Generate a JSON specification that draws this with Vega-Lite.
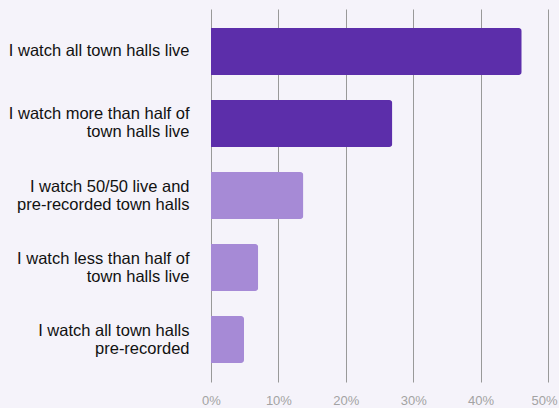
{
  "$schema": "https://vega.github.io/schema/vega-lite/v6.json",
  "autosize": {"type": "none"},
  "padding": {"left": 211, "top": 9, "right": 11, "bottom": 26},
  "width": 337,
  "height": 373,
  "background": "#f5f3fa",
  "config": {"view": {"stroke": null}},
  "data": {"values": [
    {"answer": "I watch all town halls live", "share": 0.461, "group": "mostly live"},
    {"answer": "I watch more than half of|town halls live", "share": 0.269, "group": "mostly live"},
    {"answer": "I watch 50/50 live and|pre-recorded town halls", "share": 0.137, "group": "other"},
    {"answer": "I watch less than half of|town halls live", "share": 0.07, "group": "other"},
    {"answer": "I watch all town halls |pre-recorded", "share": 0.049, "group": "other"}
  ]},
  "mark": {"type": "bar", "cornerRadiusEnd": 3},
  "encoding": {
    "y": {
      "field": "answer", "type": "nominal", "sort": null, "title": null,
      "scale": {"paddingInner": 0.35, "paddingOuter": 0.265},
      "axis": {
        "domain": false, "ticks": false, "grid": false,
        "labelExpr": "split(datum.value, '|')",
        "labelFont": "Liberation Sans", "labelFontSize": 16.5, "labelColor": "#111111",
        "labelPadding": 22, "labelLineHeight": 18, "labelLimit": 300,
        "labelOffset": {"condition": {"test": "indexof(datum.value, '|') >= 0", "value": -9}, "value": 0}
      }
    },
    "x": {
      "field": "share", "type": "quantitative", "title": null,
      "scale": {"domain": [0, 0.5], "nice": false},
      "axis": {
        "values": [0, 0.1, 0.2, 0.3, 0.4, 0.5], "format": ".0%",
        "domain": false, "ticks": false, "grid": true, "gridColor": "#999999", "gridWidth": 1,
        "labelFont": "Liberation Sans", "labelFontSize": 13, "labelColor": "#a3a3a3",
        "labelPadding": 12, "labelFlush": false,
        "labelOffset": {"condition": {"test": "datum.value >= 0.5", "value": -4}, "value": 0}
      }
    },
    "color": {
      "field": "group", "type": "nominal", "legend": null,
      "scale": {"domain": ["mostly live", "other"], "range": ["#5c2eaa", "#a68ad6"]}
    }
  }
}
